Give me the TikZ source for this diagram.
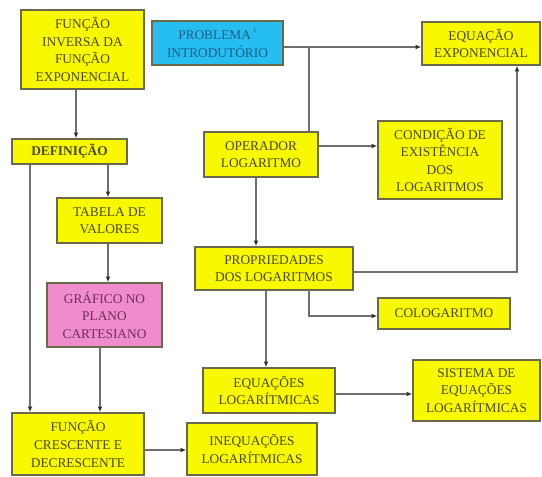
\documentclass[tikz,border=0pt]{standalone}
\usepackage{fontspec}
\setmainfont{Liberation Serif}
\usetikzlibrary{arrows.meta}
\definecolor{boxyellow}{HTML}{F8F800}
\definecolor{boxcyan}{HTML}{26BDF0}
\definecolor{boxpink}{HTML}{F08CCB}
\definecolor{boxedge}{HTML}{6A6A4A}
\definecolor{txtolive}{HTML}{4A4A14}
\definecolor{txtblue}{HTML}{1A5F88}
\definecolor{txtpurple}{HTML}{6E2E5E}
\definecolor{linegray}{HTML}{6E6E6E}

\begin{document}
\begin{tikzpicture}[x=0.025cm, y=-0.025cm,
	box/.style={draw=boxedge, line width=1.1pt, fill=boxyellow, text=txtolive,
		align=center, inner sep=1pt,
		font=\fontsize{9.5}{12.5}\selectfont},
	arr/.style={draw=linegray, line width=0.9pt, -{Latex[length=4pt,width=3.5pt,color=black!80]}},
	ln/.style={draw=linegray, line width=0.9pt}]
	\useasboundingbox (0,0) rectangle (542,477);
	% left column
	\node[box, minimum width=123*0.025cm, minimum height=79*0.025cm] (inv) at (82.5,49.5)
		{FUNÇÃO\\INVERSA DA\\FUNÇÃO\\EXPONENCIAL};
	\node[box, minimum width=115*0.025cm, minimum height=25*0.025cm, font=\fontsize{9.5}{12.5}\selectfont\bfseries] (def) at (69.5,151.5)
		{DEFINIÇÃO};
	\node[box, minimum width=105*0.025cm, minimum height=45*0.025cm] (tab) at (109.5,220.5)
		{TABELA DE\\VALORES};
	\node[box, fill=boxpink, text=txtpurple, minimum width=115*0.025cm, minimum height=64*0.025cm] (graf) at (104.5,315)
		{GRÁFICO NO\\PLANO\\CARTESIANO};
	\node[box, minimum width=132*0.025cm, minimum height=62*0.025cm] (cres) at (78,444)
		{FUNÇÃO\\CRESCENTE E\\DECRESCENTE};
	\node[box, minimum width=130*0.025cm, minimum height=52*0.025cm] (ineq) at (252,449)
		{INEQUAÇÕES\\LOGARÍTMICAS};
	% right part
	\node[box, fill=boxcyan, text=txtblue, minimum width=131*0.025cm, minimum height=44*0.025cm] (prob) at (217.5,43)
		{PROBLEMA\,\raisebox{5pt}{\tiny 1}\\INTRODUTÓRIO};
	\node[box, minimum width=118*0.025cm, minimum height=43*0.025cm] (eqexp) at (481,43.5)
		{EQUAÇÃO\\EXPONENCIAL};
	\node[box, minimum width=114*0.025cm, minimum height=45*0.025cm] (oper) at (261,154.5)
		{OPERADOR\\LOGARITMO};
	\node[box, minimum width=124*0.025cm, minimum height=78*0.025cm] (cond) at (440,160)
		{CONDIÇÃO DE\\EXISTÊNCIA\\DOS\\LOGARITMOS};
	\node[box, minimum width=158*0.025cm, minimum height=43*0.025cm] (prop) at (274,268.5)
		{PROPRIEDADES\\DOS LOGARITMOS};
	\node[box, minimum width=132*0.025cm, minimum height=31*0.025cm] (colog) at (444,313.5)
		{COLOGARITMO};
	\node[box, minimum width=132*0.025cm, minimum height=45*0.025cm] (eqlog) at (269,390.5)
		{EQUAÇÕES\\LOGARÍTMICAS};
	\node[box, minimum width=127*0.025cm, minimum height=61*0.025cm] (sist) at (476.5,390.5)
		{SISTEMA DE\\EQUAÇÕES\\LOGARÍTMICAS};
	\coordinate (j) at (309,47);
	% connectors
	\draw[arr] (76,0 |- inv.south) -- (76,0 |- def.north);
	\draw[arr] (108,0 |- def.south) -- (108,0 |- tab.north);
	\draw[arr] (30,0 |- def.south) -- (30,0 |- cres.north);
	\draw[arr] (108,0 |- tab.south) -- (108,0 |- graf.north);
	\draw[arr] (100,0 |- graf.south) -- (100,0 |- cres.north);
	\draw[arr] (cres.east |- 0,450) -- (ineq.west |- 0,450);
	\draw[arr] (prob.east |- j) -- (eqexp.west |- j);
	\draw[ln] (j) -- (j |- oper.north);
	\draw[arr] (oper.east |- 0,146) -- (cond.west |- 0,146);
	\draw[arr] (256,0 |- oper.south) -- (256,0 |- prop.north);
	\draw[arr] (prop.east |- 0,272) -| (517,0 |- eqexp.south);
	\draw[arr] (309,0 |- prop.south) |- (colog.west |- 0,316);
	\draw[arr] (266,0 |- prop.south) -- (266,0 |- eqlog.north);
	\draw[arr] (eqlog.east |- 0,394) -- (sist.west |- 0,394);
\end{tikzpicture}
\end{document}
